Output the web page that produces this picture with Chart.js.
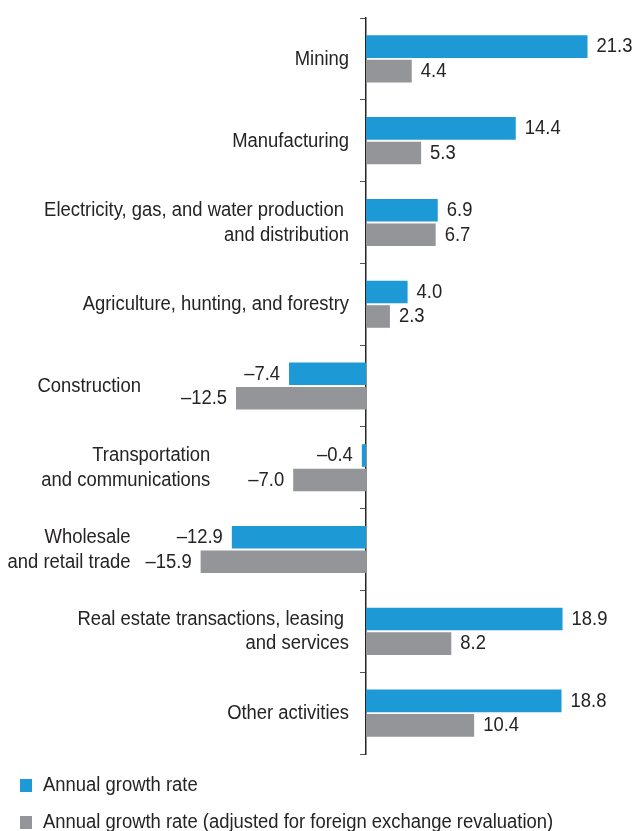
<!DOCTYPE html>
<html>
<head>
<meta charset="utf-8">
<script src="https://cdn.jsdelivr.net/npm/chart.js@4.4.1/dist/chart.umd.min.js"></script>
<style>
  html, body { margin: 0; padding: 0; background: #fff; }
  #wrap { position: relative; width: 635px; height: 831px; }
</style>
</head>
<body>
<div id="wrap"><canvas id="sectorChart"></canvas></div>
<script>
/* sectors, top to bottom */
const sectors = [
  ["Mining"],
  ["Manufacturing"],
  ["Electricity, gas, and water production ", "and distribution"],
  ["Agriculture, hunting, and forestry"],
  ["Construction"],
  ["Transportation", "and communications"],
  ["Wholesale", "and retail trade"],
  ["Real estate transactions, leasing ", "and services"],
  ["Other activities"]
];
const growthRate = [21.3, 14.4, 6.9, 4.0, -7.4, -0.4, -12.9, 18.9, 18.8];
const growthRateAdjusted = [4.4, 5.3, 6.7, 2.3, -12.5, -7.0, -15.9, 8.2, 10.4];
const seriesNames = [
  "Annual growth rate",
  "Annual growth rate (adjusted for foreign exchange revaluation)"
];

const FONT = '19.5px "Liberation Sans", Arial, sans-serif';
const SQUEEZE = 0.945;   // slightly condensed lettering
const INK = "#262324";
const BLUE = "#1d9ad6";
const GREY = "#949599";

const fmt = v => (v < 0 ? "\u2013" + Math.abs(v).toFixed(1) : v.toFixed(1));

function say(ctx, text, x, y) {
  ctx.save();
  ctx.translate(x, y);
  ctx.scale(SQUEEZE, 1);
  ctx.fillText(text, 0, 0);
  ctx.restore();
}
const widthOf = (ctx, text) => ctx.measureText(text).width * SQUEEZE;

// value labels at the bar ends, category names beside the axis / bars
const barText = {
  id: "barText",
  afterDatasetsDraw(chart, args, opts) {
    const ctx = chart.ctx;
    const x = chart.scales.x;
    const y = chart.scales.y;
    const zero = x.getPixelForValue(0);
    ctx.save();
    ctx.font = FONT;
    ctx.fillStyle = INK;
    ctx.textBaseline = "middle";

    chart.data.datasets.forEach((ds, di) => {
      chart.getDatasetMeta(di).data.forEach((bar, i) => {
        const v = ds.data[i];
        ctx.textAlign = v >= 0 ? "left" : "right";
        say(ctx, fmt(v), v >= 0 ? bar.x + 9 : bar.x - 9, bar.y + 0.5);
      });
    });

    ctx.textAlign = "right";
    sectors.forEach((lines, i) => {
      const cy = y.getPixelForValue(i);
      let right = zero - 17;
      const lo = Math.min(growthRate[i], growthRateAdjusted[i]);
      if (lo < 0) {
        // sit to the left of the longest negative bar's label
        const end = x.getPixelForValue(lo) - 9 - widthOf(ctx, fmt(lo));
        right = end - (opts.gaps[i] || 38);
      }
      const lh = 24.5;
      const top = cy - (lines.length - 1) * lh / 2;
      lines.forEach((t, k) => say(ctx, t, right, top + k * lh + 0.5));
    });
    ctx.restore();
  }
};

// two-row legend under the plot
const stackedLegend = {
  id: "stackedLegend",
  afterDraw(chart) {
    const ctx = chart.ctx;
    ctx.save();
    ctx.font = FONT;
    ctx.textBaseline = "middle";
    ctx.textAlign = "left";
    const rows = [785, 822];
    chart.data.datasets.forEach((ds, i) => {
      ctx.fillStyle = ds.backgroundColor;
      ctx.fillRect(20, rows[i] - 6, 12, 13);
      ctx.fillStyle = INK;
      say(ctx, ds.label, 43, rows[i] + 0.5);
    });
    ctx.restore();
  }
};

new Chart(document.getElementById("sectorChart"), {
  type: "bar",
  data: {
    labels: sectors,
    datasets: [
      { label: seriesNames[0], data: growthRate, backgroundColor: BLUE },
      { label: seriesNames[1], data: growthRateAdjusted, backgroundColor: GREY }
    ]
  },
  options: {
    indexAxis: "y",
    responsive: true,
    maintainAspectRatio: false,
    animation: false,
    layout: { padding: { left: 158, right: 9, top: 18, bottom: 77 } },
    categoryPercentage: 0.6,
    barPercentage: 0.92,
    scales: {
      x: {
        display: false,
        min: -20,
        max: 25
      },
      y: {
        position: { x: 0 },
        offset: true,
        ticks: { display: false },
        grid: {
          offset: true,
          drawOnChartArea: false,
          drawTicks: true,
          tickLength: 5,
          color: "#555"
        },
        border: { display: true, color: INK, width: 1.5 }
      }
    },
    plugins: {
      legend: { display: false },
      tooltip: { enabled: false },
      barText: { gaps: { 4: 40, 5: 38, 6: 15 } }
    }
  },
  plugins: [barText, stackedLegend]
});
</script>
</body>
</html>
